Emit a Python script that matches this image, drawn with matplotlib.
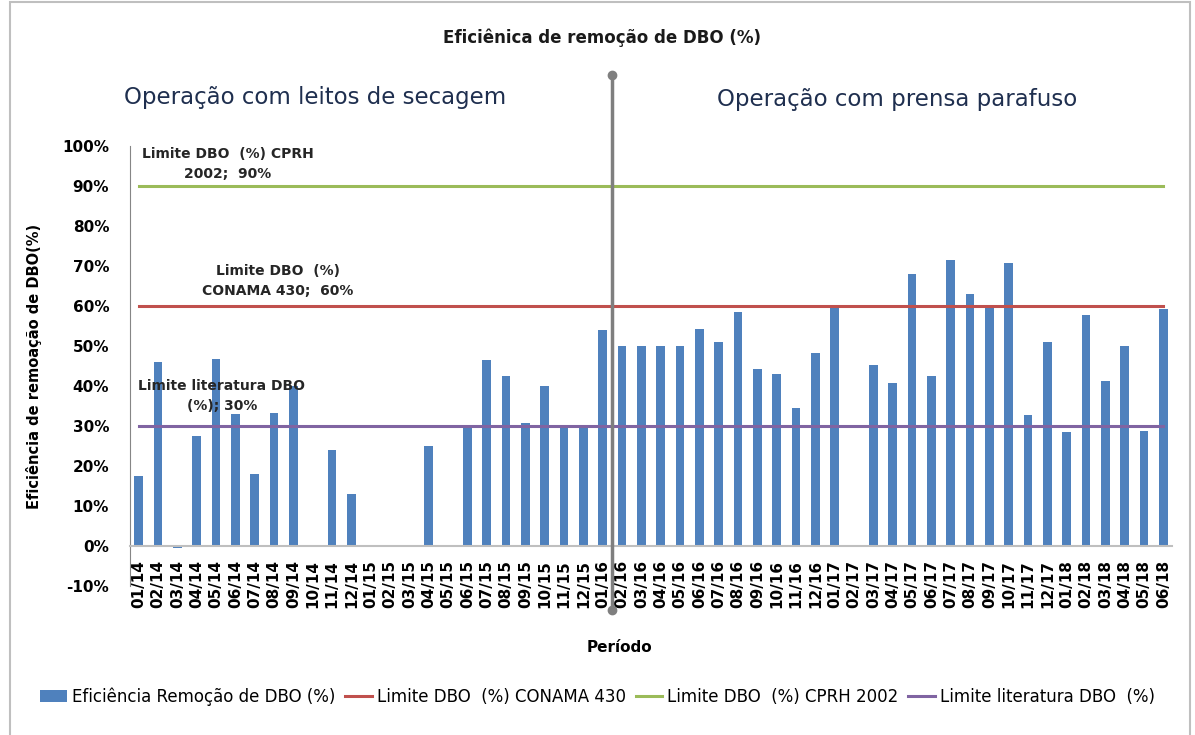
import matplotlib.pyplot as plt
from matplotlib.patches import Rectangle
from matplotlib.ticker import PercentFormatter

plt.rcParams['axes.unicode_minus'] = False

# Periodos (mes/ano)
periodos = ['01/14', '02/14', '03/14', '04/14', '05/14', '06/14', '07/14', '08/14', '09/14',
            '10/14', '11/14', '12/14', '01/15', '02/15', '03/15', '04/15', '05/15', '06/15',
            '07/15', '08/15', '09/15', '10/15', '11/15', '12/15', '01/16', '02/16', '03/16',
            '04/16', '05/16', '06/16', '07/16', '08/16', '09/16', '10/16', '11/16', '12/16',
            '01/17', '02/17', '03/17', '04/17', '05/17', '06/17', '07/17', '08/17', '09/17',
            '10/17', '11/17', '12/17', '01/18', '02/18', '03/18', '04/18', '05/18', '06/18']

# Eficiencia de remocao de DBO (%)
eficiencia = [17.5, 46.0, -0.5, 27.5, 46.8, 33.0, 18.0, 33.3, 40.0,
              0.0, 24.0, 13.0, 0.0, 0.0, 0.0, 25.0, 0.0, 30.0,
              46.5, 42.5, 30.7, 40.0, 30.0, 30.0, 54.0, 50.0, 50.0,
              50.0, 50.0, 54.2, 51.0, 58.5, 44.3, 43.0, 34.5, 48.2,
              59.8, 0.0, 45.3, 40.8, 68.0, 42.6, 71.5, 63.0, 59.8,
              70.8, 32.7, 51.0, 28.4, 57.8, 41.2, 49.9, 28.8, 59.2]

lim_conama = 60
lim_cprh = 90
lim_literatura = 30

azul = '#4F81BD'
vermelho = '#C0504D'
verde = '#9BBB59'
roxo = '#8064A2'

fig = plt.figure(figsize=(11.95, 7.35), dpi=100)
ax = fig.add_axes([0.1088, 0.2027, 0.872, 0.5986])

# posicao do eixo x no zero (antes de definir os ticks, pois reinicia os ticks)
ax.spines['top'].set_visible(False)
ax.spines['right'].set_visible(False)
ax.spines['left'].set_color('#868686')
ax.spines['bottom'].set_position(('data', 0))
ax.spines['bottom'].set_color('#BFBFBF')
ax.spines['bottom'].set_linewidth(1.5)

x = list(range(len(periodos)))
barras = ax.bar(x, eficiencia, width=0.45, color=azul, label='Eficiência Remoção de DBO (%)', zorder=2)
l1, = ax.plot(x, [lim_conama] * len(x), color=vermelho, lw=2.2, label='Limite DBO  (%) CONAMA 430', zorder=3)
l2, = ax.plot(x, [lim_cprh] * len(x), color=verde, lw=2.2, label='Limite DBO  (%) CPRH 2002', zorder=3)
l3, = ax.plot(x, [lim_literatura] * len(x), color=roxo, lw=2.2, label='Limite literatura DBO  (%)', zorder=3)

ax.set_xlim(-0.45, len(x) - 0.55)
ax.set_ylim(-10, 100)
ax.set_yticks(range(-10, 101, 10))
ax.yaxis.set_major_formatter(PercentFormatter(decimals=0))
ax.set_xticks(x)
ax.set_xticklabels(periodos, rotation=90, fontsize=11, fontweight='bold')
for t in ax.get_yticklabels():
    t.set_fontsize(11)
    t.set_fontweight('bold')
ax.tick_params(axis='y', length=0, pad=15)
ax.tick_params(axis='x', length=0, pad=10)

ax.set_ylabel('Eficiência de remoação de DBO(%)', fontsize=10.5, fontweight='bold')
ax.yaxis.set_label_coords(-0.084, 0.5)
ax.set_xlabel('Período', fontsize=11, fontweight='bold')
ax.xaxis.set_label_coords(0.47, -0.123)

# Rotulos das linhas limite
ax.text(4.6, 95.5, 'Limite DBO  (%) CPRH\n2002;  90%', ha='center', va='center',
        fontsize=10, fontweight='bold', color='#262626', zorder=4, linespacing=1.6)
ax.text(7.2, 66.3, 'Limite DBO  (%)\nCONAMA 430;  60%', ha='center', va='center',
        fontsize=10, fontweight='bold', color='#262626', zorder=4, linespacing=1.6)
ax.text(4.3, 37.5, 'Limite literatura DBO\n(%); 30%', ha='center', va='center',
        fontsize=10, fontweight='bold', color='#262626', zorder=4, linespacing=1.6)

# Linha divisoria entre as fases de operacao
ax.plot([24.5, 24.5], [-16, 117.8], color='#7F7F7F', lw=2.5, clip_on=False, zorder=5)
ax.plot([24.5, 24.5], [-16, 117.8], 'o', color='#7F7F7F', ms=6, clip_on=False, zorder=5)

fig.text(0.504, 0.948, 'Eficiênica de remoção de DBO (%)', ha='center', va='center',
         fontsize=12, fontweight='bold', color='#1a1a1a')
fig.text(0.264, 0.868, 'Operação com leitos de secagem', ha='center', va='center',
         fontsize=16.5, color='#1f2f4f')
fig.text(0.751, 0.864, 'Operação com prensa parafuso', ha='center', va='center',
         fontsize=16.5, color='#1f2f4f')

fig.legend([barras, l1, l2, l3], [barras.get_label(), l1.get_label(), l2.get_label(), l3.get_label()],
           loc='center', bbox_to_anchor=(0.5, 0.052), ncol=4, frameon=False,
           handlelength=1.6, handletextpad=0.3, columnspacing=0.6,
           prop={'family': ['Liberation Sans Narrow', 'DejaVu Sans'], 'size': 12})

# Moldura do grafico
fig.patches.append(Rectangle((10 / 1195, -0.01), 1180 / 1195, 1.007, transform=fig.transFigure,
                             fill=False, edgecolor='#BFBFBF', lw=1.5))

fig.savefig('out.png', dpi=100)
